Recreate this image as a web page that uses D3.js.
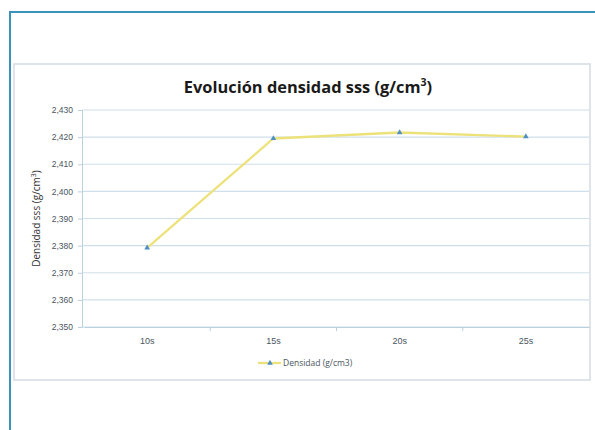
<!DOCTYPE html>
<html>
<head>
<meta charset="utf-8">
<script src="https://cdn.jsdelivr.net/npm/d3@7"></script>
<style>
  body { margin: 0; background: #fff; }
  svg { font-family: "Open Sans", "Noto Sans", sans-serif; }
</style>
</head>
<body>
<svg id="chart" width="595" height="430"></svg>
<script>
// data
let categories = ["10s", "15s", "20s", "25s"];
let density = [2.3792, 2.4195, 2.4217, 2.4202];
let yTicks = [2.35, 2.36, 2.37, 2.38, 2.39, 2.40, 2.41, 2.42, 2.43];
let seriesName = "Densidad (g/cm3)";

let svg = d3.select("#chart");

// outer page frame (blue)
svg.append("path")
    .attr("d", "M10,430 V12 H595")
    .attr("fill", "none")
    .attr("stroke", "#3a93bd")
    .attr("stroke-width", 2);

// chart frame
svg.append("rect")
    .attr("x", 14).attr("y", 64)
    .attr("width", 576).attr("height", 316)
    .attr("fill", "#fff")
    .attr("stroke", "#d3dbe2")
    .attr("stroke-width", 1.5);

let margin = {left: 84, right: 589, top: 110, bottom: 327};

let xScale = d3.scaleBand()
    .domain(categories)
    .range([margin.left, margin.right]);

let yScale = d3.scaleLinear()
    .domain([2.35, 2.43])
    .range([margin.bottom, margin.top]);

// gridlines
svg.append("g")
    .selectAll("line")
    .data(yTicks)
    .enter()
    .append("line")
    .attr("x1", margin.left - 2)
    .attr("x2", margin.right)
    .attr("y1", d => yScale(d))
    .attr("y2", d => yScale(d))
    .attr("stroke", "#cfe0ea")
    .attr("stroke-width", 1.2);

// y axis
let fmt = d => d3.format(".3f")(d).replace(".", ",");
let yAxis = svg.append("g")
    .attr("transform", "translate(" + (margin.left - 2) + ",0)")
    .call(d3.axisLeft(yScale).tickValues(yTicks).tickFormat(fmt).tickSize(4).tickPadding(5));
yAxis.select(".domain").attr("stroke", "#b9d0dd");
yAxis.selectAll(".tick line").attr("stroke", "#b9d0dd");
yAxis.selectAll("text").attr("fill", "#4a5560").style("font-size", "8.5px");

// x axis
let xAxis = svg.append("g")
    .attr("transform", "translate(0," + margin.bottom + ")")
    .call(d3.axisBottom(xScale).tickSize(0).tickPadding(11));
xAxis.select(".domain").attr("stroke", "#b9d0dd").attr("stroke-width", 1.2);
xAxis.selectAll("text").attr("fill", "#4a5560").style("font-size", "9px");
// tick marks between categories
svg.append("g")
    .selectAll("line")
    .data(categories.slice(1))
    .enter()
    .append("line")
    .attr("x1", d => xScale(d))
    .attr("x2", d => xScale(d))
    .attr("y1", margin.bottom)
    .attr("y2", margin.bottom + 4)
    .attr("stroke", "#b9d0dd");

// line
let lineGen = d3.line()
    .x((d, i) => xScale(categories[i]) + xScale.bandwidth() / 2)
    .y(d => yScale(d));

svg.append("path")
    .datum(density)
    .attr("d", lineGen)
    .attr("fill", "none")
    .attr("stroke", "#ede27a")
    .attr("stroke-width", 2.3);

let tri = d3.symbol().type(d3.symbolTriangle).size(14);
svg.append("g")
    .selectAll("path")
    .data(density)
    .enter()
    .append("path")
    .attr("d", tri)
    .attr("transform", (d, i) => "translate(" + (xScale(categories[i]) + xScale.bandwidth() / 2) + "," + yScale(d) + ")")
    .attr("fill", "#4f8fc4");

// title
let title = svg.append("text")
    .attr("x", 308).attr("y", 93)
    .attr("text-anchor", "middle")
    .attr("fill", "#1a1a1a")
    .style("font-size", "16.4px")
    .style("font-weight", "bold")
    .text("Evolución densidad sss (g/cm");
title.append("tspan").attr("baseline-shift", "super").style("font-size", "10.5px").text("3");
title.append("tspan").text(")");

// y label
let yl = svg.append("text")
    .attr("transform", "translate(40," + ((margin.top + margin.bottom) / 2) + ") rotate(-90)")
    .attr("text-anchor", "middle")
    .attr("fill", "#333")
    .style("font-size", "10px")
    .text("Densidad sss (g/cm");
yl.append("tspan").attr("baseline-shift", "super").style("font-size", "7px").text("3");
yl.append("tspan").text(")");

// legend
svg.append("line")
    .attr("x1", 258).attr("x2", 281)
    .attr("y1", 363).attr("y2", 363)
    .attr("stroke", "#ede27a")
    .attr("stroke-width", 2.3);
svg.append("path")
    .attr("d", tri)
    .attr("transform", "translate(270,363)")
    .attr("fill", "#4f8fc4");
svg.append("text")
    .attr("x", 283).attr("y", 366)
    .attr("fill", "#4a5560")
    .style("font-size", "8.5px")
    .text(seriesName);
</script>
</body>
</html>
